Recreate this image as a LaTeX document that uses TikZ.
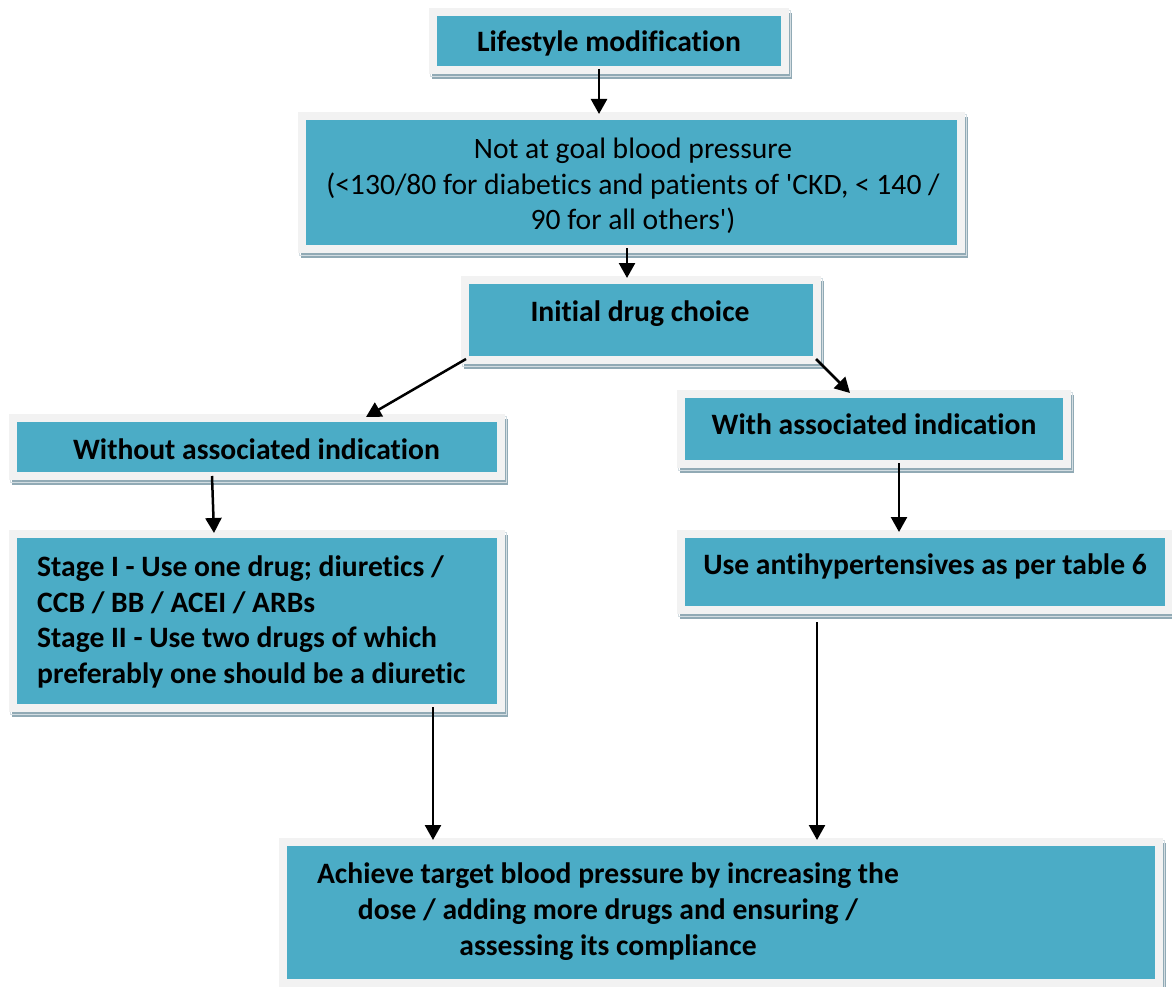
\documentclass[tikz,border=0pt]{standalone}
\usepackage{fontspec}
\setmainfont{Carlito}[Ligatures={NoCommon}]
\usetikzlibrary{arrows.meta,calc}
\pgfdeclarelayer{background}
\pgfsetlayers{background,main}
\definecolor{tealc}{HTML}{4BACC6}
\definecolor{greyc}{HTML}{F2F2F2}
\definecolor{shadowc}{HTML}{91AAB5}
\definecolor{shadowl}{HTML}{D3DDE2}
\begin{document}
\begin{tikzpicture}[x=1pt,y=-1pt,
  boxc/.style={rectangle,fill=tealc,draw=greyc,line width=8pt,outer sep=4pt,inner sep=0pt},
  txt/.style={inner sep=0pt,font=\fontsize{29.6pt}{35.7pt}\selectfont\bfseries},
  txtr/.style={inner sep=0pt,font=\fontsize{29.6pt}{35.7pt}\selectfont},
  arr/.style={line width=2.5pt,-{Triangle[width=16pt,length=15pt]},shorten <=-5pt,shorten >=-2pt}]
\useasboundingbox (0,0) rectangle (1172,987);
% boxes
\node[boxc,minimum width=352pt,minimum height=58pt] (b1) at (609,41) {};
\node[boxc,minimum width=659pt,minimum height=133pt] (b2) at (631.5,182.5) {};
\node[boxc,minimum width=352pt,minimum height=80pt] (b3) at (641,320) {};
\node[boxc,minimum width=488pt,minimum height=58pt] (b4) at (257,447) {};
\node[boxc,minimum width=488pt,minimum height=174pt] (b5) at (257,621) {};
\node[boxc,minimum width=386pt,minimum height=70pt] (b6) at (874,429) {};
\node[boxc,minimum width=488pt,minimum height=76pt] (b7) at (925,572) {};
\node[boxc,minimum width=876pt,minimum height=141pt] (b8) at (721,912.5) {};
\begin{pgfonlayer}{background}
\foreach \n in {b1,b2,b3,b4,b5,b6,b7,b8}{
  \fill[shadowc] ($(\n.north west)+(3,5)$) rectangle ($(\n.south east)+(3,5)$);
  \draw[shadowl,line width=0.8pt] ($(\n.north west)+(1.2,2.2)$) rectangle ($(\n.south east)+(1.2,2.2)$);
}
\end{pgfonlayer}
% texts
\node[txt,anchor=base] (t1) at (609,52) {Lifestyle modification};
\node[txtr,align=center] (t2) at (633,186) {Not at goal blood pressure\\(<130/80 for diabetics and patients of \textquotesingle CKD, < 140 /\\90 for all others\textquotesingle)};
\node[txt,anchor=base] (t3) at (640,321) {Initial drug choice};
\node[txt,anchor=base] (t4) at (256.5,459) {Without associated indication};
\node[txt,align=left,anchor=west] (t5) at (37,622) {Stage I - Use one drug; diuretics /\\CCB / BB / ACEI / ARBs\\Stage II - Use two drugs of which\\preferably one should be a diuretic};
\node[txt,anchor=base] (t6) at (874,434) {With associated indication};
\node[txt,anchor=base] (t7) at (925,574) {Use antihypertensives as per table 6};
\node[txt,align=center] (t8) at (608,911.5) {Achieve target blood pressure by increasing the\\dose / adding more drugs and ensuring /\\assessing its compliance};
% arrows
\draw[arr] (b1.south -| 599,0) -- (b2.north -| 599,0);
\draw[arr] (b2.south -| 627,0) -- (b3.north -| 627,0);
\draw[arr,shorten <=0pt,shorten >=0pt] ($(b3.south west)+(5,-5)$) -- ($(b4.north)+(109,3)$);
\draw[arr,shorten <=0pt,shorten >=0pt] ($(b3.south east)+(-5,-5)$) -- ($(b6.north west)+(173,3)$);
\draw[arr,shorten <=0pt,shorten >=0pt] ($(b4.south)+(-45,-4)$) -- ($(b5.north)+(-43,3)$);
\draw[arr] (b6.south -| 899,0) -- (b7.north -| 899,0);
\draw[arr] (b5.south -| 433,0) -- (b8.north -| 433,0);
\draw[arr,shorten <=8pt] (b7.south -| 817,0) -- (b8.north -| 817,0);
\end{tikzpicture}
\end{document}
